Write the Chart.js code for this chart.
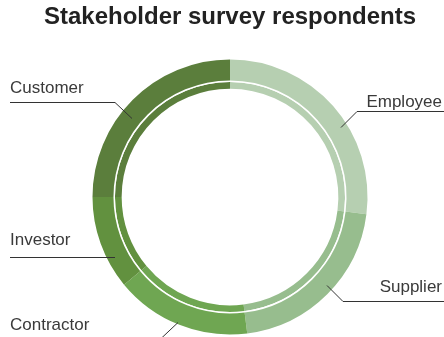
<!DOCTYPE html>
<html>
<head>
<meta charset="utf-8">
<script src="https://cdn.jsdelivr.net/npm/chart.js@4/dist/chart.umd.min.js"></script>
<style>
  html, body { margin: 0; padding: 0; background: #fff; }
  canvas { display: block; }
</style>
</head>
<body>
<canvas id="surveyChart" width="444" height="337"></canvas>
<script>
// respondents share (%) by stakeholder group, clockwise from 12 o'clock
const groups = ['Employee', 'Supplier', 'Contractor', 'Investor', 'Customer'];
const shares = [27, 21, 16, 11, 25];
const groupColors = ['#b6cfb1', '#97bd8e', '#6fa652', '#62913f', '#5b7e3c'];

// label text + leader line for each group (canvas px)
const callouts = {
  Employee:   { text: [442, 107], align: 'right', line: [[444, 111], [357, 111], [341, 127]] },
  Supplier:   { text: [442, 292], align: 'right', line: [[444, 301], [343, 301], [327, 285]] },
  Contractor: { text: [10, 330],  align: 'left',  line: [[178, 322], [160, 339]] },
  Investor:   { text: [10, 245],  align: 'left',  line: [[10, 257], [115, 257]] },
  Customer:   { text: [10, 93],   align: 'left',  line: [[10, 102], [115, 102], [132, 118]] }
};

const calloutPlugin = {
  id: 'callouts',
  afterDraw(chart) {
    const ctx = chart.ctx;
    ctx.save();
    ctx.font = '17px "Liberation Sans", Arial, sans-serif';
    ctx.fillStyle = '#3a3a3a';
    ctx.strokeStyle = '#333';
    ctx.lineWidth = 1;
    ctx.textBaseline = 'alphabetic';
    chart.data.labels.forEach(name => {
      const c = callouts[name];
      if (!c) return;
      ctx.textAlign = c.align;
      ctx.fillText(name, c.text[0], c.text[1]);
      ctx.beginPath();
      c.line.forEach((p, i) => {
        if (i === 0) ctx.moveTo(p[0], p[1] + 0.5);
        else ctx.lineTo(p[0], p[1] + 0.5);
      });
      ctx.stroke();
    });
    ctx.restore();
  }
};

const ctx = document.getElementById('surveyChart').getContext('2d');
new Chart(ctx, {
  type: 'doughnut',
  data: {
    labels: groups,
    datasets: [
      { data: shares, backgroundColor: groupColors, borderWidth: 0, weight: 21 },
      // thin white ring between the two bands
      { data: [1], backgroundColor: '#ffffff', borderWidth: 0, weight: 1.5 },
      { data: shares, backgroundColor: groupColors, borderWidth: 0, weight: 6.7 }
    ]
  },
  options: {
    responsive: false,
    animation: false,
    events: [],
    cutout: '78.8%',
    layout: { padding: { left: 16, right: 0, top: 0, bottom: 2.5 } },
    plugins: {
      legend: { display: false },
      tooltip: { enabled: false },
      title: {
        display: true,
        text: 'Stakeholder survey respondents',
        color: '#222',
        font: { family: '"Liberation Sans", Arial, sans-serif', size: 24, weight: 'bold' },
        padding: { top: 3.3, bottom: 27.4 }
      }
    }
  },
  plugins: [calloutPlugin]
});
</script>
</body>
</html>
